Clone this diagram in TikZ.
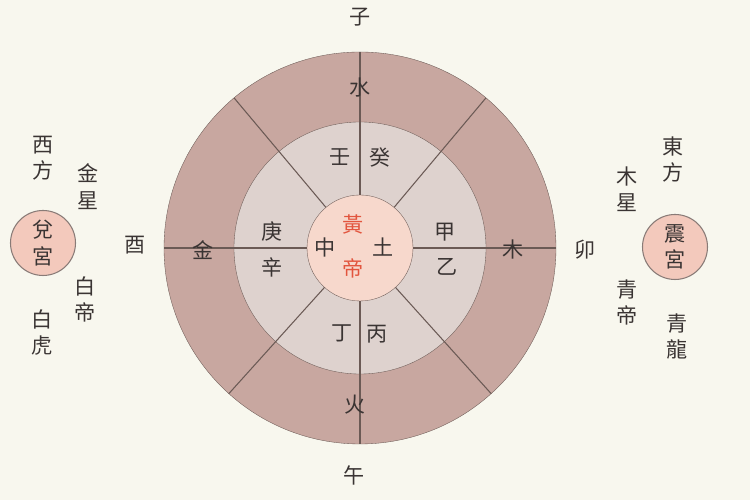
\documentclass[tikz,border=0pt]{standalone}
\usepackage{fontspec}
\newfontfamily\cjk{Noto Sans CJK TC}
\usepackage{tkz-euclide}
\definecolor{paper}{HTML}{F8F7EE}
\definecolor{ringout}{HTML}{C8A7A0}
\definecolor{ringmid}{HTML}{DED2CE}
\definecolor{ringin}{HTML}{F7D8CC}
\definecolor{gongfill}{HTML}{F3C9BC}
\definecolor{linec}{HTML}{6B5A55}
\definecolor{inkc}{HTML}{3A3433}
\definecolor{redc}{HTML}{E2553E}
\tikzset{
  zi/.style={font=\cjk\fontsize{12}{15}\selectfont,text=inkc,inner sep=0pt,align=center},
  gong/.style={zi,circle,draw=linec!80,fill=gongfill,minimum size=1.3cm},
  spoke/.style={draw=linec,semithick}
}

\begin{document}
\begin{tikzpicture}[semithick]
\fill[paper](0,0)rectangle(15,10);
\useasboundingbox(0,0)rectangle(15,10);
\tkzDefPoint(7.2,5.04){O}
\tkzDefShiftPoint[O](0:3.92){A}
\tkzDefShiftPoint[O](0:2.52){B}
\tkzDefShiftPoint[O](0:1.06){C}
\tkzDrawCircle[draw=linec,fill=ringout](O,A)
\tkzDrawCircle[draw=linec,fill=ringmid](O,B)
\tkzDrawCircle[draw=linec,fill=ringin](O,C)
\foreach \a in {0,50,90,130,180,228,270,312}
  \draw[spoke,shift={(O)}](\a:1.06)--(\a:3.92);
% branches and elements
\node[zi](zi) at (7.2,9.66){子};
\node[zi](wu) at (7.08,0.5){午};
\node[zi](you) at (2.7,5.1){酉};
\node[zi](mao) at (11.7,5.0){卯};
\node[zi](shui) at (7.2,8.24){水};
\node[zi](huo) at (7.1,1.9){火};
\node[zi](jin) at (4.06,5.0){金};
\node[zi](mu) at (10.26,5.0){木};
% stems
\node[zi](ren) at (6.8,6.86){壬};
\node[zi](gui) at (7.6,6.86){癸};
\node[zi](geng) at (5.44,5.36){庚};
\node[zi](xin) at (5.44,4.66){辛};
\node[zi](jia) at (8.9,5.36){甲};
\node[zi](yi) at (8.94,4.66){乙};
\node[zi](ding) at (6.84,3.34){丁};
\node[zi](bing) at (7.54,3.32){丙};
% centre
\node[zi,text=redc](huang) at (7.06,5.52){黃};
\node[zi,text=redc](di) at (7.06,4.64){帝};
\node[zi](zhong) at (6.5,5.06){中};
\node[zi](tu) at (7.66,5.06){土};
% west
\node[zi](xifang) at (0.86,6.83){西\\方};
\node[zi](jinxing) at (1.76,6.27){金\\星};
\node[gong](dui) at (0.86,5.14){兌\\宮};
\node[zi](baidi) at (1.7,4.01){白\\帝};
\node[zi](baihu) at (0.84,3.35){白\\虎};
% east
\node[zi](dongfang) at (13.46,6.81){東\\方};
\node[zi](muxing) at (12.54,6.21){木\\星};
\node[gong](zhen) at (13.5,5.06){震\\宮};
\node[zi](qingdi) at (12.54,3.95){青\\帝};
\node[zi](qinglong) at (13.54,3.27){青\\龍};
\end{tikzpicture}
\end{document}
